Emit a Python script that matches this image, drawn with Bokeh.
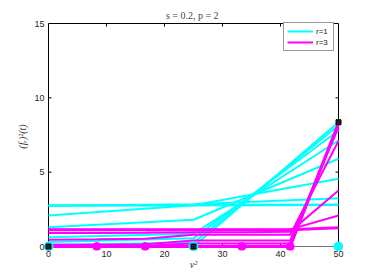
from bokeh.plotting import figure
from bokeh.models import Range1d, FixedTicker, Legend, LegendItem
from bokeh.embed import file_html
from bokeh.resources import INLINE

# ---------------- data ----------------
x_ticks = [0, 10, 20, 30, 40, 50]
y_ticks = [0, 5, 10, 15]

# r = 1 curves (knots at nu^2 = 0, 25, 50)
nu_r1 = [0, 25, 50]
r1_curves = [
    [2.76, 2.78, 2.80],
    [2.74, 2.85, 3.25],
    [2.08, 2.78, 4.55],
    [1.30, 1.80, 5.90],
    [0.63, 0.85, 7.13],
    [0.30, 0.55, 7.80],
    [0.12, 0.25, 8.14],
    [0.00, 0.00, 8.36],
]
r1_widths = [2.5, 2, 2, 2, 2, 2, 2, 2]

# r = 3 curves (knots at nu^2 = 0, 8.33, ..., 50)
nu_r3 = [0, 8.33, 16.67, 25, 33.33, 41.67, 50]
r3_curves = [
    [1.12, 1.12, 1.12, 1.12, 1.12, 1.12, 1.26],
    [1.12, 1.12, 1.12, 1.12, 1.12, 1.15, 2.08],
    [0.90, 0.90, 0.92, 0.96, 0.96, 1.00, 3.77],
    [0.45, 0.48, 0.52, 0.79, 0.79, 0.79, 7.10],
    [0.11, 0.11, 0.15, 0.40, 0.40, 0.40, 8.00],
    [0.00, 0.02, 0.05, 0.20, 0.20, 0.20, 8.20],
    [0.00, 0.00, 0.00, 0.00, 0.00, 0.00, 8.30],
]
r3_widths = [3, 2, 2, 2, 2, 2, 3]

knots_r3_y = [0, 0, 0, 0, 0, 0, 0]
knots_r1_y = [0, 0, 0]
sample_x = [0, 25, 50]
sample_y = [0, 0, 8.36]

CYAN = "#00FFFF"
MAGENTA = "#FF00FF"

# ---------------- layout ----------------
W, H = 374, 277
fl, fr, ft, fb = 44, 342, 22, 250   # frame edges (page px)
pad = 4                               # px of room around the axes box
x0, x1 = 0, 50
y0, y1 = 0, 15
xs = (fr - fl - 2 * pad) / (x1 - x0)
ys = (fb - ft - pad - 1) / (y1 - y0)

p = figure(width=W, height=H, output_backend="svg", toolbar_location=None,
           x_range=Range1d(x0 - pad / xs, x1 + pad / xs),
           y_range=Range1d(y0 - pad / ys, y1 + 1 / ys),
           min_border_left=fl, min_border_right=W - fr,
           min_border_top=ft, min_border_bottom=H - fb,
           title="s = 0.2,  p = 2")
p.outline_line_color = None
p.grid.visible = False
p.background_fill_color = "white"
p.border_fill_color = "white"

p.title.align = "center"
p.title.text_font = "Liberation Serif"
p.title.text_font_size = "10px"
p.title.text_font_style = "normal"
p.title.text_color = "#444444"
p.title.standoff = 3

for ax in (p.xaxis[0], p.yaxis[0]):
    ax.axis_line_color = None
    ax.major_tick_line_color = None
    ax.minor_tick_line_color = None
    ax.major_tick_in = 0
    ax.major_tick_out = 0
    ax.minor_tick_in = 0
    ax.minor_tick_out = 0
    ax.major_label_text_font = "Liberation Sans"
    ax.major_label_text_font_size = "9px"
    ax.major_label_text_color = "#262626"
    ax.major_label_standoff = 0
    ax.axis_label_text_font = "Liberation Serif"
    ax.axis_label_text_font_style = "italic"
    ax.axis_label_text_font_size = "10px"
    ax.axis_label_text_color = "#333333"

p.xaxis.ticker = FixedTicker(ticks=x_ticks)
p.yaxis.ticker = FixedTicker(ticks=y_ticks)
p.xaxis.axis_label = "ν²"
p.xaxis.axis_label_standoff = -1
p.yaxis.axis_label = "(fᵣ)²(t)"
p.yaxis.axis_label_standoff = 3

# axes box
p.line([x0, x0], [y0, y1], color="black", line_width=1)
p.line([x1, x1], [y0, y1], color="black", line_width=1)
p.line([x0, x1], [y1, y1], color="black", line_width=1)
p.line([x0, x1], [y0, y0], color="#777777", line_width=1)

# inward ticks
tx = [t for t in x_ticks if x0 < t < x1]
ty = [t for t in y_ticks if y0 < t < y1]
tlx = 3 / ys
tly = 3 / xs
p.segment(tx, [y1] * len(tx), tx, [y1 - tlx] * len(tx), color="black", line_width=1)
p.segment(tx, [y0] * len(tx), tx, [y0 + tlx] * len(tx), color="black", line_width=1)
p.segment([x0] * len(ty), ty, [x0 + tly] * len(ty), ty, color="black", line_width=1)
p.segment([x1] * len(ty), ty, [x1 - tly] * len(ty), ty, color="black", line_width=1)

# curves
r1_renderers = []
for vals, lw in zip(r1_curves, r1_widths):
    r1_renderers.append(p.line(nu_r1, vals, color=CYAN, line_width=lw))
r3_renderers = []
for vals, lw in zip(r3_curves, r3_widths):
    r3_renderers.append(p.line(nu_r3, vals, color=MAGENTA, line_width=lw))

# knots & samples
p.scatter(nu_r3, knots_r3_y, marker="circle", size=8, fill_color=MAGENTA, line_color=MAGENTA)
p.scatter(nu_r1, knots_r1_y, marker="circle", size=9, fill_color=CYAN, line_color=CYAN)
p.scatter(sample_x, sample_y, marker="square", size=5, fill_color="#222222", line_color="black")

legend = Legend(items=[LegendItem(label="r=1", renderers=[r1_renderers[1]]),
                       LegendItem(label="r=3", renderers=[r3_renderers[1]])],
                location=(239, 199))
legend.label_text_font = "Liberation Sans"
legend.label_text_font_size = "8px"
legend.label_text_color = "#222222"
legend.label_height = 10
legend.label_width = 14
legend.glyph_height = 10
legend.glyph_width = 26
legend.label_standoff = 3
legend.padding = 3
legend.spacing = 1
legend.margin = 0
legend.border_line_color = "#333333"
legend.border_line_width = 1
legend.background_fill_alpha = 1
p.add_layout(legend)

open("out.html", "w").write(file_html(p, INLINE))
